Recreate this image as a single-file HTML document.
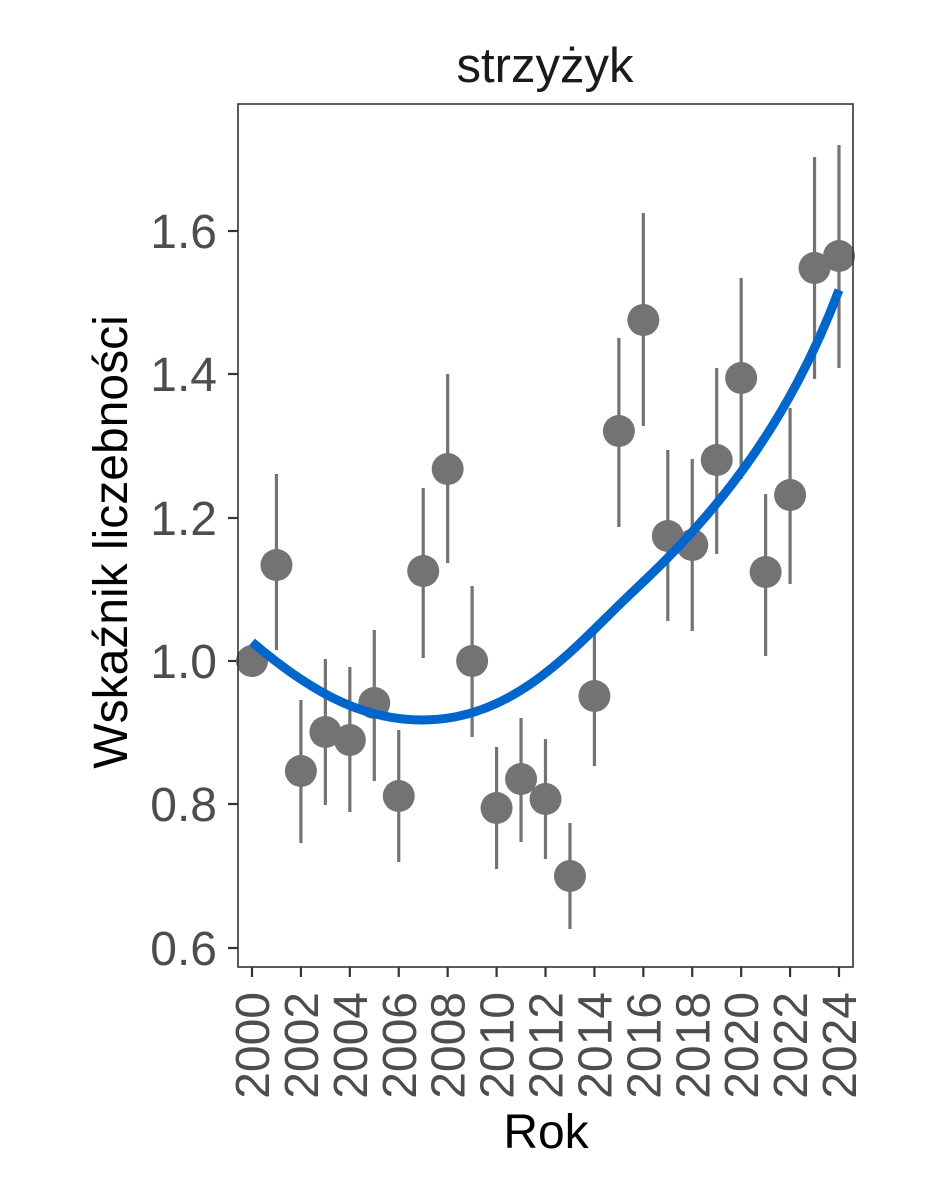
<!DOCTYPE html>
<html><head><style>body{margin:0;background:#fff}svg{display:block}</style></head><body>
<svg width="944" height="1181" xmlns="http://www.w3.org/2000/svg" font-family="Liberation Sans, sans-serif">
<rect width="944" height="1181" fill="#fff"/>
<text x="545" y="82" font-size="49" text-anchor="middle" fill="#1a1a1a">strzyżyk</text>
<g stroke="#333" stroke-width="2.2">
<line x1="228" y1="231" x2="238" y2="231"/><line x1="228" y1="374" x2="238" y2="374"/><line x1="228" y1="518" x2="238" y2="518"/><line x1="228" y1="661" x2="238" y2="661"/><line x1="228" y1="804" x2="238" y2="804"/><line x1="228" y1="948" x2="238" y2="948"/>
</g>
<g font-size="48" fill="#4d4d4d" text-anchor="end">
<text x="217" y="248">1.6</text><text x="217" y="391">1.4</text><text x="217" y="535">1.2</text><text x="217" y="678">1.0</text><text x="217" y="821">0.8</text><text x="217" y="965">0.6</text>
</g>
<text transform="translate(127,542) rotate(-90)" font-size="48" text-anchor="middle" fill="#000">Wskaźnik liczebności</text>
<g stroke="#333" stroke-width="2.2" id="ticks"></g>
<g stroke="#737373" stroke-width="3.2" id="bars"></g>
<g fill="#737373" id="pts"></g>
<path d="M252,642 C320,700 370,720 423,720 C520,720 580,640 640,585 C720,510 790,420 839,290" fill="none" stroke="#0066CC" stroke-width="9"/>
<rect x="238" y="104" width="615" height="863" fill="none" stroke="#333" stroke-width="1.6"/>
<g id="xl" font-size="48" fill="#4d4d4d"></g>
<text x="546" y="1148" font-size="48" text-anchor="middle" fill="#000">Rok</text>
<script>
var d=[[661,661,661],[565,474,650],[771,700,843],[732,659,805],[740,667,812],[703,630,781],[796,730,862],[571,488,658],[469,374,563],[661,586,737],[808,747,869],[779,718,842],[799,739,859],[876,823,929],[696,626,766],[431,338,527],[320,213,426],[536,450,621],[545,459,631],[460,368,554],[378,278,479],[572,494,656],[495,408,584],[268,157,379],[256,145,368]];
var ns="http://www.w3.org/2000/svg";function el(t,a,p){var e=document.createElementNS(ns,t);for(var k in a)e.setAttribute(k,a[k]);document.getElementById(p).appendChild(e);return e;}
for(var i=0;i<25;i++){var x=252+i*(587/24);
if(i>0)el('line',{x1:x,x2:x,y1:d[i][1],y2:d[i][2]},'bars');
el('circle',{cx:x,cy:d[i][0],r:16},'pts');
if(i%2==0){el('line',{x1:x,x2:x,y1:967,y2:977},'ticks');
var t=el('text',{transform:'translate('+(x+17)+',992) rotate(-90)','text-anchor':'end'},'xl');t.textContent=2000+i;}}
</script>
</svg>
</body></html>
